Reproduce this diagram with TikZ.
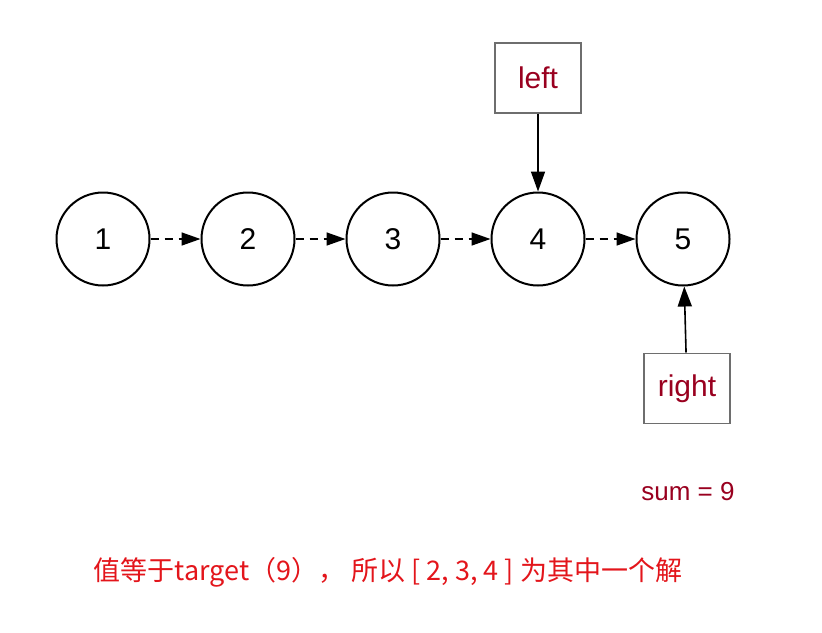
\documentclass[tikz,border=0pt]{standalone}
\usepackage{fontspec}
\setmainfont{Liberation Sans}
\newfontfamily\cjk{Noto Sans CJK SC}
\usepackage{xcolor}
\usepackage{tikz}
\usetikzlibrary{arrows.meta,positioning}
\definecolor{ptrred}{HTML}{99001F}
\definecolor{notered}{HTML}{E3151B}
\definecolor{boxgray}{HTML}{6E6E6E}
\tikzset{
  listnode/.style={draw=black,circle,line width=1pt,minimum size=46.5pt,inner sep=0pt,
    font=\fontsize{15}{18}\selectfont},
  ptrbox/.style={draw=boxgray,line width=0.8pt,minimum width=43pt,minimum height=35pt,
    inner sep=0pt,text=ptrred,font=\fontsize{15}{18}\selectfont},
  nextarrow/.style={-{Triangle[length=9.5pt,width=6.5pt]},line width=0.8pt,dash pattern=on 4pt off 3pt},
  ptrarrow/.style={-{Triangle[length=10pt,width=7pt]},line width=0.8pt}
}
\begin{document}
\begin{tikzpicture}[x=0.5pt,y=-0.5pt,node distance=25pt]
\useasboundingbox (0,0) rectangle (822,632);
\node[listnode] (n1) at (103,239) {1};
\node[listnode, right=of n1] (n2) {2};
\node[listnode, right=of n2] (n3) {3};
\node[listnode, right=of n3] (n4) {4};
\node[listnode, right=of n4] (n5) {5};

\node[ptrbox, above=39pt of n4] (left) {left};
\node[ptrbox, below=33pt of n5, xshift=2pt] (right) {right};

\foreach \a/\b in {n1/n2,n2/n3,n3/n4,n4/n5}
  \draw[nextarrow] (\a) -- (\b);
\draw[ptrarrow] (left) -- (n4);
\draw[ptrarrow] (right) -- (n5);

\node[text=ptrred, font=\fontsize{13}{15}\selectfont] (sum) at (688,492) {sum = 9};
\node[text=notered, font=\cjk\fontsize{13.5}{16}\selectfont] (note) at (388,572)
  {值等于target（9）， 所以 [ 2, 3, 4 ] 为其中一个解};
\end{tikzpicture}
\end{document}
